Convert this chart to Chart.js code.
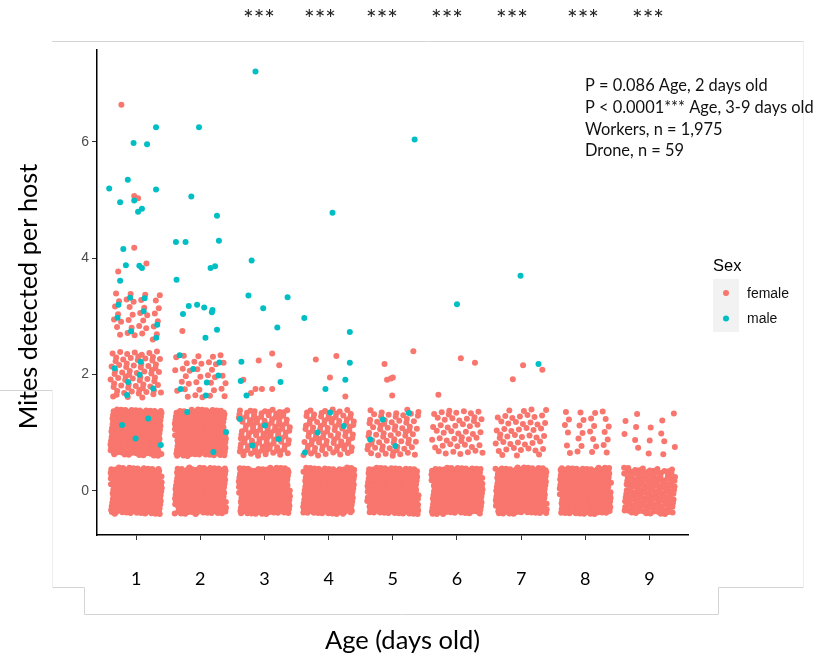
<!DOCTYPE html>
<html>
<head>
<meta charset="utf-8">
<script src="https://cdn.jsdelivr.net/npm/chart.js@4.4.1/dist/chart.umd.min.js"></script>
<style>
  html, body { margin: 0; padding: 0; background: #fff; }
  #chart { display: block; }
</style>
</head>
<body>
<canvas id="chart" width="829" height="657"></canvas>
<script>
var ages = [1, 2, 3, 4, 5, 6, 7, 8, 9];
var xTicks = [1, 2, 3, 4, 5, 6, 7, 8, 9];
var yTicks = [0, 2, 4, 6];
var sigLabel = "***"; // shown over ages 3..9

// hosts per age in the solid clusters (mite count 0..3)
var female0 = [260, 260, 260, 260, 260, 260, 260, 240, 150];
var female1 = [230, 230, 110, 90, 70, 52, 50, 27, 15];
var female2 = [70, 36, 0, 0, 0, 0, 0, 0, 0];
var female3 = [34, 0, 0, 0, 0, 0, 0, 0, 0];
var male1 = [4, 3, 4, 4, 4, 0, 0, 0, 0];
var male2 = [6, 7, 0, 0, 0, 0, 0, 0, 0];
var male3 = [8, 0, 0, 0, 0, 0, 0, 0, 0];

// the scattered points, read one by one (jittered age, jittered mites)
var femaleSingles = [
  [0.77, 6.64], [0.97, 5.07], [1.03, 5.03], [0.97, 4.18], [0.72, 3.77], [1.16, 3.91],
  [1.72, 2.75],
  [2.91, 2.24], [3.12, 2.36], [3.23, 2.16], [3.80, 2.26], [4.12, 2.32], [4.87, 2.18],
  [5.32, 2.40], [2.67, 1.91], [2.79, 1.68], [2.86, 1.75], [2.96, 1.75], [3.12, 1.75],
  [4.02, 1.95], [4.26, 1.62], [4.91, 1.91], [4.97, 1.93], [5.00, 1.95], [4.99, 1.64],
  [5.71, 1.65], [6.06, 2.28], [6.28, 2.20], [6.87, 1.92], [7.03, 2.16], [7.33, 2.08]
];
var maleSingles = [
  [1.31, 6.25], [1.98, 6.25], [0.96, 5.98], [1.17, 5.96], [0.87, 5.35], [0.58, 5.20],
  [1.31, 5.18], [0.97, 4.99], [0.75, 4.96], [1.86, 5.06], [1.09, 4.85], [1.03, 4.80],
  [2.26, 4.73], [1.62, 4.28], [1.77, 4.28], [2.29, 4.30], [0.80, 4.16], [0.84, 3.88],
  [1.05, 3.87], [1.09, 3.83], [0.75, 3.61], [1.63, 3.63], [2.16, 3.83], [2.23, 3.86],
  [1.82, 3.18], [1.95, 3.20], [2.06, 3.15], [2.19, 3.11], [2.18, 3.07], [1.73, 3.04],
  [2.08, 2.63], [2.26, 2.77],
  [2.86, 7.21], [5.34, 6.04], [4.06, 4.78], [2.80, 3.96], [2.75, 3.36], [3.36, 3.33],
  [2.98, 3.14], [3.62, 2.97], [3.20, 2.81], [4.33, 2.73], [2.64, 2.22], [4.33, 2.20],
  [2.63, 1.89], [3.25, 1.87], [2.72, 1.64], [4.26, 1.91], [3.95, 1.75], [6.99, 3.70],
  [6.00, 3.21], [7.27, 2.18]
];

var femaleColor = "#F8766D";
var maleColor = "#00BFC4";

// geom_jitter stand-in: spread each cell's hosts over +-0.4 with a fixed
// low-discrepancy sequence so the clusters fill like the original
var JIT = 0.4;
var seq = 0;
function spread(counts, mites, out) {
  for (var a = 0; a < ages.length; a++) {
    for (var i = 0; i < counts[a]; i++, seq++) {
      var u = (0.5 + seq * 0.7548776662) % 1;
      var v = (0.5 + seq * 0.5698402910) % 1;
      out.push({ x: ages[a] + (u - 0.5) * 2 * JIT, y: mites + (v - 0.5) * 2 * JIT });
    }
  }
}

var femalePts = [];
spread(female0, 0, femalePts);
spread(female1, 1, femalePts);
spread(female2, 2, femalePts);
spread(female3, 3, femalePts);
femaleSingles.forEach(function (p) { femalePts.push({ x: p[0], y: p[1] }); });

var malePts = [];
spread(male1, 1, malePts);
spread(male2, 2, malePts);
spread(male3, 3, malePts);
maleSingles.forEach(function (p) { malePts.push({ x: p[0], y: p[1] }); });

function fitFont(ctx, text, family, width) {
  ctx.font = "100px " + family;
  return (100 * width / ctx.measureText(text).width).toFixed(1) + "px " + family;
}

// titles, stars, note, legend and the leftover frame lines of the figure
var decor = {
  id: "decor",
  beforeDraw: function (chart) {
    var c = chart.ctx;
    c.save();
    c.lineWidth = 1;
    c.strokeStyle = "#d4d4d4";
    c.beginPath();
    c.moveTo(52, 41.5); c.lineTo(803.5, 41.5);
    c.moveTo(0, 390.5); c.lineTo(52.5, 390.5);
    c.moveTo(52.5, 587.5); c.lineTo(84.5, 587.5); c.lineTo(84.5, 614.5); c.lineTo(718.5, 614.5);
    c.lineTo(718.5, 587.5); c.lineTo(803.5, 587.5);
    c.stroke();
    c.strokeStyle = "#eeeeee";
    c.beginPath();
    c.moveTo(803.5, 41.5); c.lineTo(803.5, 587.5);
    c.moveTo(52.5, 390.5); c.lineTo(52.5, 587.5);
    c.stroke();
    c.restore();
  },
  afterDraw: function (chart) {
    var c = chart.ctx;
    c.save();
    c.fillStyle = "#000";

    // y title
    c.save();
    c.translate(37, 296.5);
    c.rotate(-Math.PI / 2);
    c.font = fitFont(c, "Mites detected per host", "Lato", 266);
    c.textAlign = "center";
    c.textBaseline = "alphabetic";
    c.fillText("Mites detected per host", 0, 0);
    c.restore();

    // x title
    c.font = fitFont(c, "Age (days old)", "Lato", 155);
    c.textAlign = "center";
    c.textBaseline = "alphabetic";
    c.fillText("Age (days old)", 402.5, 649);

    // significance stars
    var starX = [259, 320, 382, 447, 512, 583, 648];
    c.fillStyle = "#222";
    c.font = "25px Lato";
    starX.forEach(function (x) { c.fillText(sigLabel, x, 28); });

    // note
    var note = ["P = 0.086 Age, 2 days old", "P < 0.0001*** Age, 3-9 days old",
      "Workers, n = 1,975", "Drone, n = 59"];
    c.font = fitFont(c, note[1], "Lato", 229);
    c.textAlign = "left";
    c.fillStyle = "#111";
    note.forEach(function (t, i) { c.fillText(t, 585, 91 + i * 21.8); });

    // legend
    c.fillStyle = "#000";
    c.font = "16.5px 'Liberation Sans'";
    c.fillText("Sex", 713, 271);
    c.fillStyle = "#f2f2f2";
    c.fillRect(713, 279, 26, 53);
    [[femaleColor, "female", 293], [maleColor, "male", 318.5]].forEach(function (k) {
      c.fillStyle = k[0];
      c.beginPath();
      c.arc(726, k[2], 3, 0, Math.PI * 2);
      c.fill();
      c.fillStyle = "#111";
      c.font = "14px 'Liberation Sans'";
      c.textBaseline = "middle";
      c.fillText(k[1], 747, k[2] + 1);
    });
    c.restore();
  }
};

var ctx = document.getElementById("chart").getContext("2d");
new Chart(ctx, {
  type: "scatter",
  data: {
    datasets: [
      { label: "male", data: malePts, backgroundColor: maleColor, pointRadius: 3, borderWidth: 0, pointHoverRadius: 3 },
      { label: "female", data: femalePts, backgroundColor: femaleColor, pointRadius: 3, borderWidth: 0, pointHoverRadius: 3 }
    ]
  },
  options: {
    responsive: false,
    animation: false,
    layout: { padding: { top: 50, right: 141, left: 0, bottom: 0 } },
    plugins: { legend: { display: false }, tooltip: { enabled: false } },
    scales: {
      x: {
        type: "linear",
        position: "bottom",
        min: 0.39,
        max: 9.6,
        afterFit: function (s) { s.height = 122; },
        afterBuildTicks: function (s) { s.ticks = xTicks.map(function (v) { return { value: v }; }); },
        grid: { display: true, drawOnChartArea: false, drawTicks: true, tickLength: 5, color: "#333", lineWidth: 1 },
        border: { display: true, color: "#000", width: 1.5 },
        ticks: { padding: 28, color: "#000", font: { family: "Lato", size: 18 } }
      },
      y: {
        type: "linear",
        min: -0.76,
        max: 7.58,
        afterFit: function (s) { s.width = 97; },
        afterBuildTicks: function (s) { s.ticks = yTicks.map(function (v) { return { value: v }; }); },
        grid: { display: true, drawOnChartArea: false, drawTicks: true, tickLength: 5, color: "#333", lineWidth: 1 },
        border: { display: true, color: "#000", width: 1.5 },
        ticks: { padding: 3, color: "#4d4d4d", font: { family: "Liberation Sans", size: 14 } }
      }
    }
  },
  plugins: [decor]
});
</script>
</body>
</html>
